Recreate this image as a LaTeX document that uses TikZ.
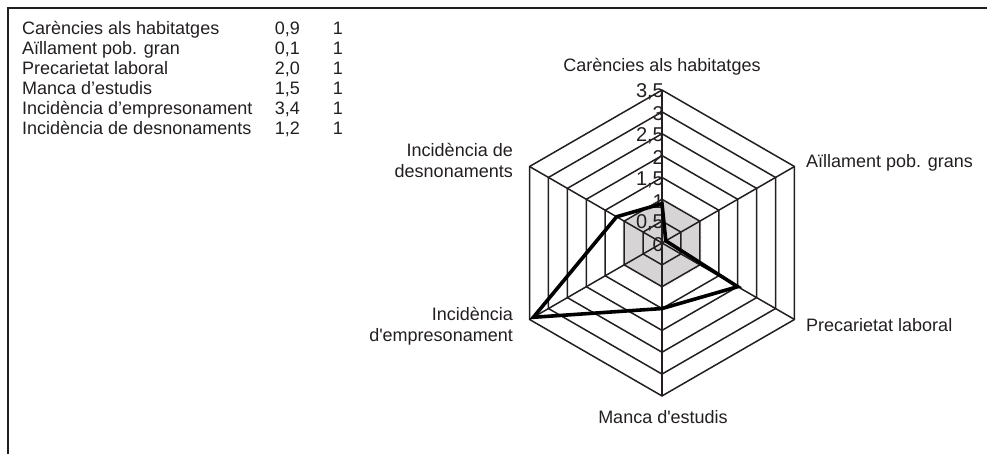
\documentclass[tikz,border=0pt]{standalone}
\usepackage{fontspec}
\setmainfont{Liberation Sans}[Ligatures=TeXOff]
\definecolor{ink}{RGB}{35,31,32}
\definecolor{areagray}{RGB}{214,212,212}
\begin{document}
\begin{tikzpicture}[x=1pt,y=1pt,
  gridline/.style={line width=1.5pt, draw=ink, line join=miter},
  dataline/.style={line width=3.6pt, draw=black, line join=miter},
  legendtxt/.style={font=\fontsize{18}{20}\selectfont, text=ink, inner sep=0pt},
  axislbl/.style={font=\fontsize{18}{21}\selectfont, text=ink, inner sep=0pt},
  ticklbl/.style={font=\fontsize{20}{20}\selectfont, text=ink, inner sep=0pt, anchor=east},
  framebox/.style={line width=1.3pt, draw=ink}]
\useasboundingbox (0,0) rectangle (987,454);
% frame
\coordinate (fb) at (8,0);
\coordinate (fc) at (8,446);
\coordinate (fr) at (987,446);
\draw[framebox] (fb) -- (fc) -- (fr);
% legend
\foreach \i/\t/\v in {0/{Carències als habitatges}/{0,9},
                      1/{Aïllament pob. gran}/{0,1},
                      2/{Precarietat laboral}/{2,0},
                      3/{Manca d’estudis}/{1,5},
                      4/{Incidència d’empresonament}/{3,4},
                      5/{Incidència de desnonaments}/{1,2}}{
  \node[legendtxt, anchor=base west] (ln\i) at (22,{419-20*\i}) {\t};
  \node[legendtxt, anchor=base east] (lv\i) at (300,{419-20*\i}) {\v};
  \node[legendtxt, anchor=base east] (lo\i) at (343,{419-20*\i}) {1};
}
% radar
\begin{scope}[shift={(662,211)}]
  \def\u{43.7}
  \coordinate (c) at (0,0);
  % grey area (series 1)
  \fill[areagray] (90:\u) -- (30:\u) -- (-30:\u) -- (-90:\u) -- (210:\u) -- (150:\u) -- cycle;
  \draw[gray!35, dotted, line width=0.6pt] (90:{1.04*\u}) -- (30:{1.04*\u}) -- (-30:{1.04*\u}) -- (-90:{1.04*\u}) -- (210:{1.04*\u}) -- (150:{1.04*\u}) -- cycle;
  % rings
  \foreach \r in {0.5,1,...,3.5}{
    \draw[gridline] (90:{\r*\u}) -- (30:{\r*\u}) -- (-30:{\r*\u}) -- (-90:{\r*\u}) -- (210:{\r*\u}) -- (150:{\r*\u}) -- cycle;
  }
  % spokes
  \foreach \a/\n in {90/a1,30/a2,-30/a3,-90/a4,210/a5,150/a6}{
    \coordinate (\n) at (\a:{3.5*\u});
    \draw[gridline] (c) -- (\n);
  }
  % tick labels
  \foreach \r/\l in {0/0,0.5/{0,5},1/1,1.5/{1,5},2/2,2.5/{2,5},3/3,3.5/{3,5}}{
    \node[ticklbl] (t\r) at (2,{\r*\u-2}) {\l};
  }
  % data
  \coordinate (d1) at (90:{0.9*\u});
  \coordinate (d2) at (30:{0.1*\u});
  \coordinate (d3) at (-30:{2.0*\u});
  \coordinate (d4) at (-90:{1.5*\u});
  \coordinate (d5) at (210:{3.4*\u});
  \coordinate (d6) at (150:{1.2*\u});
  \draw[dataline] (d1) -- (d2) -- (d3) -- (d4) -- (d5) -- (d6) -- cycle;
\end{scope}
% axis labels
\node[axislbl, anchor=base] (l1) at (662,382) {Carències als habitatges};
\node[axislbl, anchor=west] (l2) at (806,291) {Aïllament pob. grans};
\node[axislbl, anchor=west] (l3) at (806,129) {Precarietat laboral};
\node[axislbl, anchor=center] (l4) at (663,37) {Manca d'estudis};
\node[axislbl, anchor=east, align=right] (l6) at (513,294) {Incidència de\\desnonaments};
\node[axislbl, anchor=east, align=right] (l5) at (513,128) {Incidència\\d'empresonament};
\end{tikzpicture}
\end{document}
